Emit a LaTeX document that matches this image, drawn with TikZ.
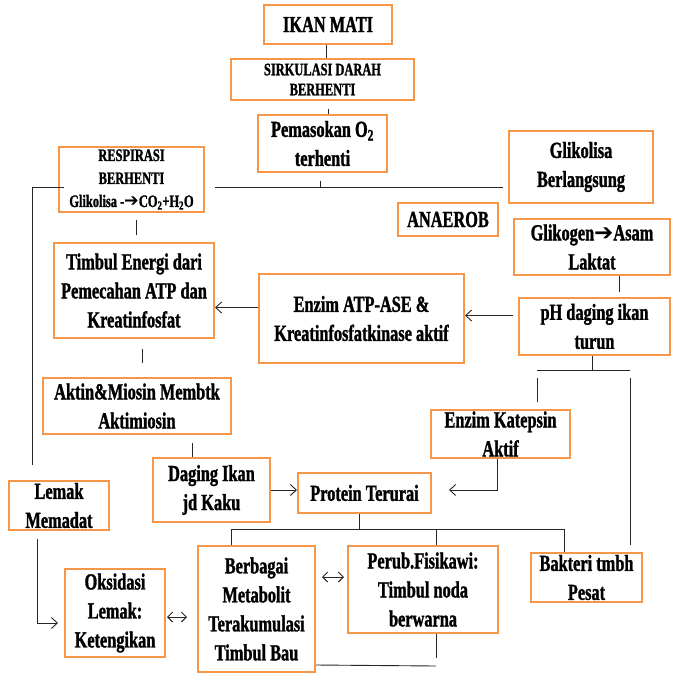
\documentclass[tikz,border=0pt]{standalone}
\usepackage{fontspec}
\setmainfont{Liberation Serif}[FakeStretch=0.71, BoldFeatures={FakeBold=1.3}]
\newfontfamily\arrowsym{DejaVu Sans}
\usetikzlibrary{arrows.meta}
\definecolor{boxorange}{HTML}{F79646}
\newcommand{\harrow}{{\arrowsym\bfseries ➔}}

\begin{document}
\begin{tikzpicture}[x=1pt,y=-1pt,
  box/.style={draw=boxorange, line width=2pt, fill=white, align=center, inner sep=0pt,
    font=\bfseries\fontsize{23}{29}\selectfont},
  smallbox/.style={box, font=\bfseries\fontsize{17.5}{20}\selectfont},
  link/.style={draw=black!85, line width=0.9pt},
  arr/.style={link, -{Straight Barb[length=6pt,width=11pt]}},
  dbl/.style={link, {Straight Barb[length=5pt,width=10pt]}-{Straight Barb[length=5pt,width=10pt]}}]
\useasboundingbox (0,0) rectangle (672,674);
\node[box, minimum width=128pt, minimum height=39pt] (ikan) at (328,24.5) {IKAN MATI};
\node[smallbox, minimum width=183pt, minimum height=41pt] (sirk) at (322.5,79.5) {SIRKULASI DARAH\\BERHENTI};
\node[box, minimum width=129pt, minimum height=57pt] (pemas) at (322.5,143.5) {Pemasokan O\textsubscript{2}\\terhenti};
\node[smallbox, minimum width=145pt, minimum height=65pt, font=\bfseries\fontsize{17.5}{23}\selectfont] (resp) at (131.5,179.5)
  {RESPIRASI\\BERHENTI\\Glikolisa -\harrow CO\textsubscript{2}+H\textsubscript{2}O};
\node[box, minimum width=144pt, minimum height=72pt] (gliko) at (581,167) {Glikolisa\\Berlangsung};
\node[box, minimum width=100pt, minimum height=33pt] (anaer) at (448,219.5) {ANAEROB};
\node[box, minimum width=156pt, minimum height=56pt] (glikogen) at (592,247) {Glikogen\harrow Asam\\Laktat};
\node[box, minimum width=160pt, minimum height=95pt] (timbul) at (134,290.5) {Timbul Energi dari\\Pemecahan ATP dan\\Kreatinfosfat};
\node[box, minimum width=205pt, minimum height=89pt] (enzatp) at (361.5,318.5) {Enzim ATP-ASE \&\\Kreatinfosfatkinase aktif};
\node[box, minimum width=151pt, minimum height=57pt] (ph) at (594.5,326.5) {pH daging ikan\\turun};
\node[box, minimum width=188pt, minimum height=56pt] (aktin) at (137,406) {Aktin\&Miosin Membtk\\Aktimiosin};
\node[box, minimum width=139pt, minimum height=48pt] (katep) at (500.5,434) {Enzim Katepsin\\Aktif};
\node[box, minimum width=117pt, minimum height=64pt] (daging) at (211.5,490) {Daging Ikan\\jd Kaku};
\node[box, minimum width=133pt, minimum height=40pt] (protein) at (364.5,493) {Protein Terurai};
\node[box, minimum width=100pt, minimum height=49pt] (lemak) at (59,505.5) {Lemak\\Memadat};
\node[box, minimum width=100pt, minimum height=88pt] (oks) at (115,613) {Oksidasi\\Lemak:\\Ketengikan};
\node[box, minimum width=117pt, minimum height=126pt] (berb) at (256.5,609) {Berbagai\\Metabolit\\Terakumulasi\\Timbul Bau};
\node[box, minimum width=150pt, minimum height=87pt] (perub) at (423,589.5) {Perub.Fisikawi:\\Timbul noda\\berwarna};
\node[box, minimum width=111pt, minimum height=49pt] (bakt) at (586.5,577.5) {Bakteri tmbh\\Pesat};
\coordinate (fork) at (320,187);
\coordinate (phfork) at (592,370);
\coordinate (pfork) at (359,529);
\draw[link] ([xshift=-2pt]ikan.south) -- ([xshift=-2pt]ikan.south |- sirk.north);
\draw[link] ([yshift=-8pt]sirk.south -| ikan.south) -- (pemas.north -| ikan.south);
\draw[link] (fork |- pemas.south) ++(0,8) -- (fork);
\draw[link] ([xshift=10pt]resp.east |- fork) -- ([xshift=-5pt]gliko.west |- fork);
\draw[link] ([xshift=6pt]resp.west |- fork) -| (32,465);
\draw[link] ([xshift=5pt,yshift=-7pt]resp.south) -- ++(0,15);
\draw[link] ([xshift=8pt,yshift=-10pt]timbul.south) -- ++(0,14);
\draw[arr] ([yshift=11pt]enzatp.west) -- ([yshift=11pt]enzatp.west -| timbul.east);
\draw[arr] ([xshift=-5pt,yshift=11pt]ph.west) -- ([yshift=11pt]ph.west -| enzatp.east);
\draw[link] ([xshift=27pt]glikogen.south) -- ++(0,16);
\draw[link] (ph.south -| phfork) -- (phfork);
\draw[link] ([xshift=-55pt]phfork) -- ([xshift=38pt]phfork);
\draw[link] ([xshift=-55pt,yshift=-8pt]phfork) -- ++(0,24);
\draw[link] ([xshift=38pt,yshift=-8pt]phfork) -- ([xshift=38pt,yshift=7pt]phfork |- bakt.north);
\draw[link] ([xshift=55pt,yshift=-8pt]aktin.south) -- ([xshift=55pt]aktin.south |- daging.north);
\draw[arr] (daging.east) -- (protein.west |- daging.east);
\draw[arr] ([xshift=-3pt]katep.south) |- ([xshift=17pt]protein.east |- daging.east);
\draw[arr] ([xshift=-22pt,yshift=-8pt]lemak.south) |- ([xshift=-6pt,yshift=-10pt]oks.west);
\draw[link] (protein.south -| pfork) -- (pfork);
\draw[link] ([xshift=-25pt]berb.north) |- ([xshift=-22pt]bakt.north |- pfork) -- ([xshift=-22pt]bakt.north);
\draw[link] ([xshift=13pt]perub.north) -- ([xshift=13pt]perub.north |- pfork);
\draw[dbl] ([xshift=1pt,yshift=-4pt]oks.east) -- ++(20,0);
\draw[dbl] ([xshift=6pt,yshift=32pt]berb.east) -- ++(22,0);
\draw[link] ([xshift=13pt]perub.south) -- ++(0,24);
\draw[link] ([xshift=13pt,yshift=-32pt]perub.south) -- ([yshift=-56pt]berb.east);
\end{tikzpicture}
\end{document}
